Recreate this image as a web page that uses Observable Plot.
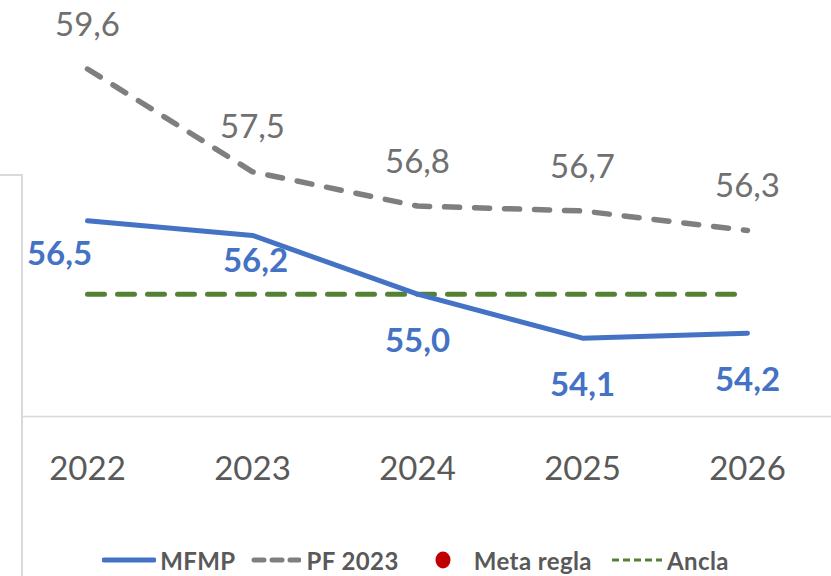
<!DOCTYPE html>
<html>
<head>
<meta charset="utf-8">
<script src="https://cdn.jsdelivr.net/npm/d3@7"></script>
<script src="https://cdn.jsdelivr.net/npm/@observablehq/plot@0.6"></script>
<style>
  html, body { margin: 0; padding: 0; background: #fff; }
  #wrap { position: relative; width: 831px; height: 576px; overflow: hidden; font-family: Lato, "Open Sans", sans-serif; }
  #chart { position: absolute; left: 0; top: 0; }
  #frame { position: absolute; left: -4px; top: 174px; width: 25px; height: 420px; border-top: 2px solid #d9d9d9; border-right: 2px solid #d9d9d9; background: #fff; }
  #legend { position: absolute; left: 0; top: 541px; width: 831px; height: 38px; display: flex; align-items: center; justify-content: center; font-weight: 700; font-size: 24px; letter-spacing: 0.4px; color: #595959; }
  #legend .it { display: flex; align-items: center; }
  #legend svg { display: block; }
</style>
</head>
<body>
<div id="wrap">
  <div id="chart"></div>
  <div id="frame"></div>
  <div id="legend"></div>
</div>
<script>
const years = ["2022", "2023", "2024", "2025", "2026"];
const mfmp = [56.5, 56.2, 55.0, 54.1, 54.2];
const pf2023 = [59.6, 57.5, 56.8, 56.7, 56.3];
const ancla = [55.0, 55.0, 55.0, 55.0, 55.0];
const seriesNames = ["MFMP", "PF 2023", "Meta regla", "Ancla"];
const yMin = 52.5, yMax = 61;

const rows = (vals) => years.map((y, i) => ({year: y, value: vals[i]}));
const mfmpRows = rows(mfmp);
const pfRows = rows(pf2023);
const anclaRows = rows(ancla);
const fmt = (v) => v.toFixed(1).replace(".", ",");

const FONT = "Lato, 'Open Sans', sans-serif";

const plot = Plot.plot({
  width: 831,
  height: 520,
  marginTop: 0,
  marginBottom: 104,
  marginLeft: 3,
  marginRight: 0,
  style: {fontFamily: FONT, background: "transparent"},
  x: {type: "point", domain: years, label: null},
  y: {domain: [yMin, yMax], axis: null},
  marks: [
    Plot.ruleY([yMin], {stroke: "#d9d9d9", strokeWidth: 1.5}),
    Plot.axisX({tickSize: 0, tickPadding: 40, fontSize: 33, fill: "#595959", label: null}),
    Plot.line(anclaRows, {x: "year", y: "value", stroke: "#548235", strokeWidth: 5, strokeDasharray: "17,13", strokeLinecap: "round"}),
    Plot.line(pfRows, {x: "year", y: "value", stroke: "#7f7f7f", strokeWidth: 5.5, strokeDasharray: "15,15", strokeLinecap: "round", strokeLinejoin: "round"}),
    Plot.line(mfmpRows, {x: "year", y: "value", stroke: "#4472c4", strokeWidth: 5, strokeLinejoin: "round"}),
    Plot.text(pfRows, {x: "year", y: "value", text: d => fmt(d.value), dy: -44, fill: "#707070", fontSize: 33}),
    Plot.text(mfmpRows, {filter: d => d.year === "2022", x: "year", y: "value", text: d => fmt(d.value), dx: -28, dy: 34, fill: "#4472c4", fontSize: 33, fontWeight: 700}),
    Plot.text(mfmpRows, {filter: d => d.year === "2023", x: "year", y: "value", text: d => fmt(d.value), dx: 3, dy: 26, fill: "#4472c4", fontSize: 33, fontWeight: 700}),
    Plot.text(mfmpRows, {filter: d => d.year > "2023", x: "year", y: "value", text: d => fmt(d.value), dy: 47, fill: "#4472c4", fontSize: 33, fontWeight: 700})
  ]
});
document.getElementById("chart").appendChild(plot);

// Legend
const legend = document.getElementById("legend");
const sw = {
  "MFMP": `<svg width="54" height="10"><line x1="2" y1="5" x2="52" y2="5" stroke="#4472c4" stroke-width="5" stroke-linecap="round"/></svg>`,
  "PF 2023": `<svg width="50" height="10"><line x1="3" y1="5" x2="48" y2="5" stroke="#7f7f7f" stroke-width="5" stroke-dasharray="10,8" stroke-linecap="round"/></svg>`,
  "Meta regla": `<svg width="16" height="18"><ellipse cx="8" cy="9" rx="7.5" ry="8.5" fill="#c00000"/></svg>`,
  "Ancla": `<svg width="51" height="10"><line x1="1" y1="5" x2="51" y2="5" stroke="#548235" stroke-width="3" stroke-dasharray="7,4"/></svg>`
};
const gapsBefore = [0, 15, 36, 19];
const gapsInside = [4, 6, 23, 5];
seriesNames.forEach((name, i) => {
  const it = document.createElement("div");
  it.className = "it";
  it.style.marginLeft = gapsBefore[i] + "px";
  it.innerHTML = sw[name] + `<span style="margin-left:${gapsInside[i]}px">${name}</span>`;
  legend.appendChild(it);
});
</script>
</body>
</html>
